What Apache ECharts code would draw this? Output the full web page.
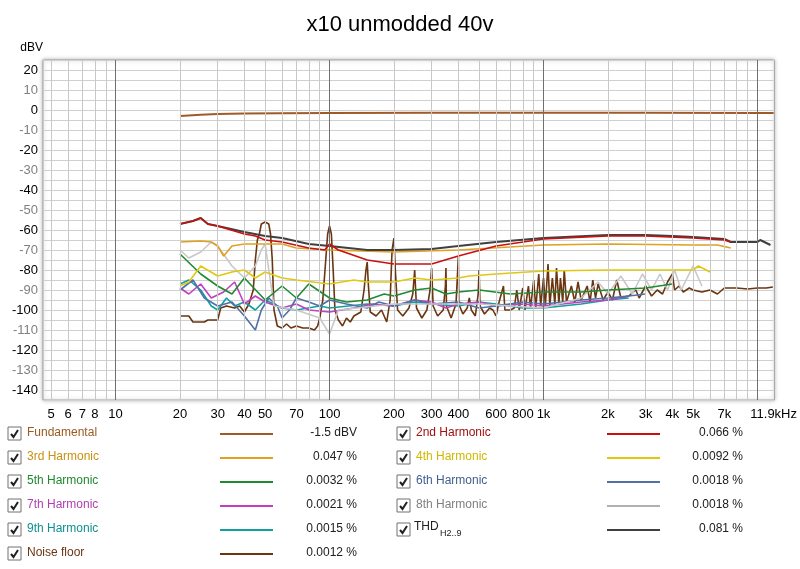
<!DOCTYPE html>
<html>
<head>
<meta charset="utf-8">
<script src="https://cdn.jsdelivr.net/npm/echarts@6/dist/echarts.min.js"></script>
<style>html,body{margin:0;padding:0;background:#fff}#chart{width:800px;height:569px}</style>
</head>
<body>
<div id="chart"></div>
<script>
const fundF = [20, 25, 30, 40, 60, 100, 300, 1000, 3000, 10000, 11900];
const fundV = [-3, -2.4, -2, -1.8, -1.6, -1.5, -1.4, -1.4, -1.4, -1.5, -1.5];
const thdF = [20, 23, 25, 27, 30, 40, 50, 60, 80, 100, 150, 200, 300, 400, 600, 1000, 2000, 3000, 4000, 5000, 7000, 7500, 10000, 10300, 11500];
const thdV = [-57, -55.5, -54, -57, -58, -61, -63, -64, -67, -68, -70, -70, -69.5, -68, -66, -64, -62.5, -62.5, -63, -63.5, -64.5, -66, -66, -65, -67.5];
const h2F = [20, 23, 25, 27, 30, 40, 45, 50, 60, 80, 95, 100, 110, 150, 200, 300, 400, 600, 1000, 2000, 3000, 5000, 7000, 7500];
const h2V = [-57, -55.5, -54, -57, -58, -62, -63, -65, -66, -69, -70, -67, -70, -75, -77, -77, -73, -68, -64.5, -63, -63, -64, -65, -66];
const h3F = [20, 25, 28, 30, 32, 35, 40, 60, 70, 100, 200, 400, 1000, 2000, 5000, 6500, 7500];
const h3V = [-66, -65.5, -66, -68, -73, -68, -67, -67, -69, -70, -71, -70, -67.5, -67, -67.5, -67.5, -69];
const h4F = [20, 22, 25, 30, 35, 40, 45, 50, 60, 70, 100, 130, 150, 200, 250, 300, 400, 450, 600, 1000, 2000, 3000, 5000, 5300, 6000];
const h4V = [-88, -86, -78, -83, -81, -80, -84, -81, -84, -85, -87, -85, -86, -86, -84, -85, -84, -83, -82, -80.5, -80, -80, -80, -78, -81];
const h5F = [20, 25, 30, 35, 40, 50, 60, 70, 80, 100, 120, 150, 180, 200, 250, 300, 350, 400, 500, 700, 1000, 1500, 2000, 3000, 4000];
const h5V = [-72, -82, -88, -92, -84, -95, -88, -94, -87, -94, -96, -95, -92, -93, -90, -89, -92, -91, -90, -92, -91, -91, -90, -89, -87];
const h6F = [20, 23, 26, 30, 35, 40, 45, 48, 52, 57, 60, 65, 70, 80, 90, 100, 120, 150, 170, 200, 250, 300, 400, 500, 600, 800, 1000, 1500, 2000, 2500, 3000];
const h6V = [-90, -85, -94, -98, -96, -103, -110, -100, -94, -98, -104, -100, -94, -96, -98, -95, -97, -99, -96, -98, -95, -97, -96, -99, -98, -96, -97, -95, -94, -93, -92];
const h7F = [20, 22, 25, 28, 32, 36, 40, 45, 50, 60, 70, 80, 100, 130, 160, 200, 250, 300, 350, 400, 500, 600, 800, 1000, 1500, 2000, 2500];
const h7V = [-89, -92, -87, -94, -91, -86, -97, -93, -96, -99, -97, -100, -101, -99, -97, -98, -95, -96, -99, -97, -96, -98, -97, -98, -96, -95, -93];
const h8F = [20, 22, 25, 28, 30, 35, 40, 45, 48, 50, 55, 70, 90, 100, 110, 200, 500, 1000, 1500, 1800, 2000, 2300, 2600, 2900, 3200, 3500, 3800, 4100, 4400, 5000, 5500];
const h8V = [-70, -74, -71, -66, -68, -78, -84, -78, -70, -67, -98, -100, -104, -112, -100, -97, -97, -99, -94, -86, -92, -83, -92, -82, -90, -82, -90, -80, -90, -78, -88];
const h9F = [20, 22, 25, 28, 30, 33, 36, 40, 45, 50, 60, 70, 90, 100, 150, 200, 250, 300, 400, 500, 600, 800, 1000, 1500, 2000, 2500];
const h9V = [-87, -85, -90, -98, -100, -94, -98, -96, -100, -95, -99, -100, -98, -99, -97, -98, -96, -97, -98, -96, -97, -99, -99, -97, -95, -94];
const noiseF = [20, 22, 23, 26, 27, 30, 31, 33, 36, 38, 40, 42, 44, 45, 46, 47, 48, 50, 52, 53, 54, 55, 57, 60, 63, 66, 70, 75, 80, 85, 88, 90, 93, 96, 98, 100, 102, 104, 106, 110, 115, 120, 125, 130, 140, 145, 148, 150, 152, 155, 165, 175, 185, 192, 196, 200, 203, 208, 220, 235, 245, 250, 255, 270, 285, 295, 300, 305, 320, 340, 348, 350, 352, 370, 390, 398, 400, 402, 420, 440, 450, 460, 480, 495, 500, 505, 530, 560, 580, 600, 620, 650, 660, 700, 730, 750, 770, 800, 820, 850, 870, 900, 920, 950, 970, 1000, 1020, 1050, 1070, 1100, 1130, 1150, 1180, 1200, 1230, 1250, 1280, 1350, 1400, 1450, 1500, 1600, 1650, 1700, 1750, 1800, 1900, 2000, 2100, 2200, 2300, 2500, 2700, 2800, 3000, 3200, 3400, 3600, 3800, 4000, 4100, 4300, 4500, 4800, 5000, 5500, 6000, 6500, 7000, 8000, 9000, 10000, 11000, 11800];
const noiseV = [-103, -103, -106, -106, -105, -105, -99, -98, -99, -98, -101, -97, -90, -75, -65, -62, -57, -56, -57, -62, -75, -100, -108, -109, -107, -109, -108, -109, -109, -110, -108, -104, -95, -75, -62, -58, -62, -80, -100, -105, -108, -104, -106, -103, -101, -90, -80, -76, -88, -101, -103, -100, -106, -95, -70, -64, -80, -100, -103, -99, -92, -80, -99, -104, -100, -90, -79, -98, -103, -100, -88, -79, -98, -104, -97, -78, -73, -97, -102, -99, -94, -100, -103, -92, -80, -98, -102, -99, -100, -103, -96, -88, -100, -100, -99, -90, -100, -89, -100, -88, -99, -85, -99, -82, -98, -84, -98, -77, -98, -84, -97, -79, -97, -84, -96, -80, -96, -88, -96, -86, -95, -88, -96, -85, -94, -87, -95, -91, -95, -85, -94, -93, -90, -94, -88, -93, -90, -92, -86, -82, -90, -88, -91, -89, -90, -91, -90, -92, -89, -89, -89.5, -89, -89, -88.5];

const xLabels = [5, 6, 7, 8, 10, 20, 30, 40, 50, 70, 100, 200, 300, 400, 600, 800, 1000, 2000, 3000, 4000, 5000, 7000, 11900];
const minorGrid = [5, 6, 7, 8, 9, 20, 30, 40, 50, 60, 70, 80, 90, 200, 300, 400, 500, 600, 700, 800, 900, 2000, 3000, 4000, 5000, 6000, 7000, 8000, 9000];
const majorGrid = [10, 100, 1000, 10000];
const yLabels = [20, 10, 0, -10, -20, -30, -40, -50, -60, -70, -80, -90, -100, -110, -120, -130, -140];

const legendRows = [
    { name: 'Fundamental', color: '#a05a28', text: '#9a5a20', value: '-1.5 dBV', col: 0, row: 0 },
    { name: '3rd Harmonic', color: '#e0a020', text: '#c89010', value: '0.047 %', col: 0, row: 1 },
    { name: '5th Harmonic', color: '#208a30', text: '#208a30', value: '0.0032 %', col: 0, row: 2 },
    { name: '7th Harmonic', color: '#c040c0', text: '#b040b0', value: '0.0021 %', col: 0, row: 3 },
    { name: '9th Harmonic', color: '#10a0a0', text: '#109090', value: '0.0015 %', col: 0, row: 4 },
    { name: 'Noise floor', color: '#6a3510', text: '#6a3510', value: '0.0012 %', col: 0, row: 5 },
    { name: '2nd Harmonic', color: '#c81010', text: '#a01010', value: '0.066 %', col: 1, row: 0 },
    { name: '4th Harmonic', color: '#e0c810', text: '#d0b800', value: '0.0092 %', col: 1, row: 1 },
    { name: '6th Harmonic', color: '#5070a8', text: '#406090', value: '0.0018 %', col: 1, row: 2 },
    { name: '8th Harmonic', color: '#b0b0b0', text: '#808080', value: '0.0018 %', col: 1, row: 3 },
    { name: 'THD', color: '#404040', text: '#202020', value: '0.081 %', col: 1, row: 4 }
];

const FONT = '"Liberation Sans", Arial, sans-serif';
const pairs = (f, v) => f.map((x, i) => [x, v[i]]);
const line = (name, f, v, color, width) => ({
    name, type: 'line', data: pairs(f, v), showSymbol: false, animation: false,
    lineStyle: { color, width: width || 1.6 }, itemStyle: { color }
});

const graphics = [];
legendRows.forEach(r => {
    const bx = r.col ? 397 : 8, y = 434 + r.row * 24;
    graphics.push({ type: 'rect', shape: { x: bx, y: y - 7, width: 13, height: 13 }, style: { fill: '#fff', stroke: '#707070', lineWidth: 1 } });
    graphics.push({ type: 'polyline', shape: { points: [[bx + 3, y], [bx + 5.5, y + 3], [bx + 10, y - 4]] }, style: { stroke: '#202020', lineWidth: 2, fill: null } });
    if (r.name === 'THD') {
        graphics.push({ type: 'text', x: bx + 17, y: y - 9, style: { text: 'THD', fill: r.text, font: '12px ' + FONT } });
        graphics.push({ type: 'text', x: bx + 43, y: y - 1, style: { text: 'H2..9', fill: r.text, font: '9px ' + FONT } });
    } else {
        graphics.push({ type: 'text', x: bx + 19, y: y - 7, style: { text: r.name, fill: r.text, font: '12px ' + FONT } });
    }
    const lx = r.col ? 607 : 220;
    graphics.push({ type: 'line', shape: { x1: lx, y1: y, x2: lx + 53, y2: y }, style: { stroke: r.color, lineWidth: 2 } });
    graphics.push({ type: 'text', x: r.col ? 743 : 357, y: y - 7, style: { text: r.value, fill: '#202020', font: '12px ' + FONT, align: 'right' } });
});

const gridSeries = {
    type: 'line', data: [], silent: true, animation: false,
    markLine: {
        silent: true, symbol: 'none', label: { show: false }, animation: false,
        data: minorGrid.map(x => ({ xAxis: x, lineStyle: { color: '#c8c8c8', width: 1, type: 'solid' } }))
            .concat(majorGrid.map(x => ({ xAxis: x, lineStyle: { color: '#707070', width: 1, type: 'solid' } })))
    }
};

const chart = echarts.init(document.getElementById('chart'));
chart.setOption({
    backgroundColor: '#fff',
    animation: false,
    title: { text: 'x10 unmodded 40v', left: 'center', top: 9, textStyle: { fontFamily: FONT, fontSize: 22, fontWeight: 'normal', color: '#000' } },
    grid: { left: 43, right: 22, top: 60, bottom: 169, show: true, borderColor: '#a0a0a0', borderWidth: 1, shadowColor: 'rgba(0,0,0,0.3)', shadowBlur: 4, backgroundColor: '#fff' },
    xAxis: {
        type: 'log', logBase: 10, min: 4.58, max: 12000,
        axisLine: { show: false }, axisTick: { show: false }, splitLine: { show: false }, minorSplitLine: { show: false },
        axisLabel: {
            customValues: xLabels, color: '#000', fontSize: 13, fontFamily: FONT, margin: 8,
            formatter: v => v >= 11000 ? '11.9kHz' : v >= 1000 ? (v / 1000) + 'k' : String(v)
        }
    },
    yAxis: {
        type: 'value', min: -145, max: 25, interval: 5,
        name: 'dBV', nameLocation: 'end', nameGap: 6, nameTextStyle: { color: '#000', fontSize: 12, fontFamily: FONT, align: 'right' },
        axisLine: { show: false }, axisTick: { show: false },
        splitLine: { lineStyle: { color: '#d0d0d0', width: 1 } },
        axisLabel: {
            customValues: yLabels, fontSize: 13, fontFamily: FONT, margin: 5,
            formatter: v => (Math.abs(v) % 20 === 0 ? '{a|' : '{b|') + v + '}',
            rich: { a: { color: '#000', fontSize: 13, fontFamily: FONT }, b: { color: '#808080', fontSize: 13, fontFamily: FONT } }
        }
    },
    series: [
        gridSeries,
        line('Noise floor', noiseF, noiseV, '#6a3510', 1.6),
        line('9th', h9F, h9V, '#10a0a0'),
        line('7th', h7F, h7V, '#c040c0'),
        line('6th', h6F, h6V, '#5070a8'),
        line('8th', h8F, h8V, '#c8c8c8'),
        line('5th', h5F, h5V, '#208a30'),
        line('4th', h4F, h4V, '#e0c810'),
        line('3rd', h3F, h3V, '#e0a020'),
        line('THD', thdF, thdV, '#404040', 2),
        line('2nd', h2F, h2V, '#c81010'),
        line('Fundamental', fundF, fundV, '#a05a28', 2)
    ],
    graphic: graphics
});
</script>
</body>
</html>
